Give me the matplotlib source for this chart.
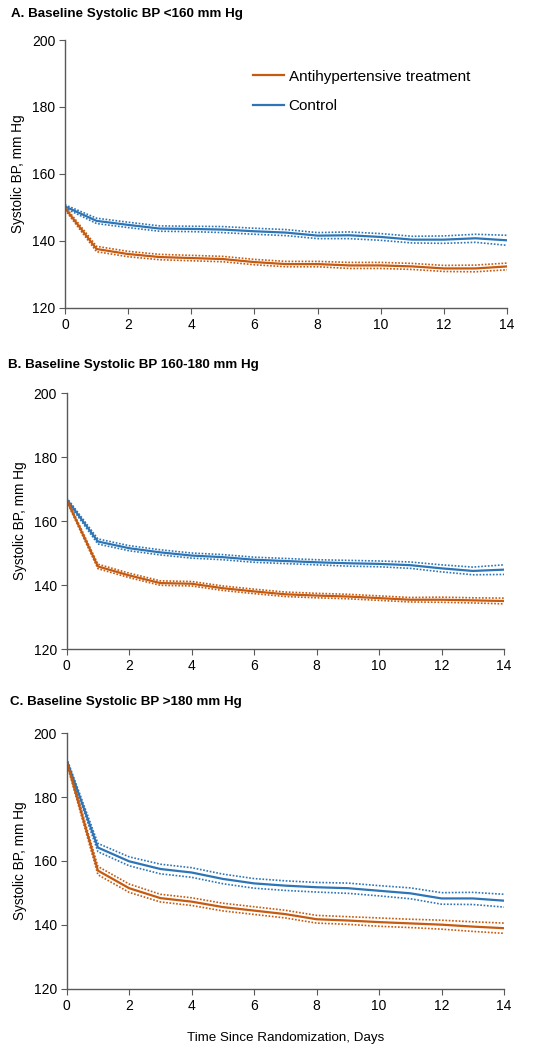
import matplotlib
matplotlib.use("Agg")
import matplotlib.pyplot as plt
import numpy as np

plt.rcParams['font.family'] = ['Liberation Sans', 'DejaVu Sans']

days = list(range(15))

# A. baseline < 160
a_trt = [149.8, 137.6, 136.1, 135.2, 134.9, 134.6, 133.7, 133.1, 133.1, 132.7, 132.7, 132.4, 131.8, 131.8, 132.4]
a_trt_ci = [0.5, 0.8, 0.8, 0.8, 0.8, 0.8, 0.8, 0.8, 0.8, 0.9, 0.9, 0.9, 0.9, 1.0, 1.0]
a_ctl = [150.3, 146.0, 144.8, 143.7, 143.6, 143.4, 142.9, 142.5, 141.6, 141.7, 141.2, 140.4, 140.4, 140.8, 140.2]
a_ctl_ci = [0.5, 0.8, 0.8, 0.8, 0.8, 0.9, 0.9, 0.9, 0.9, 1.0, 1.0, 1.0, 1.1, 1.2, 1.5]

# B. baseline 160-180
b_trt = [166.6, 145.8, 143.0, 140.6, 140.4, 139.0, 138.0, 137.1, 136.7, 136.4, 135.9, 135.4, 135.4, 135.2, 135.0]
b_trt_ci = [0.5, 0.7, 0.7, 0.7, 0.7, 0.7, 0.7, 0.7, 0.7, 0.7, 0.7, 0.7, 0.8, 0.8, 0.9]
b_ctl = [166.8, 153.6, 151.5, 150.2, 149.2, 148.7, 147.9, 147.5, 147.1, 146.8, 146.6, 146.2, 145.2, 144.4, 144.8]
b_ctl_ci = [0.5, 0.8, 0.8, 0.8, 0.8, 0.8, 0.8, 0.8, 0.8, 0.9, 0.9, 1.0, 1.1, 1.2, 1.5]

# C. baseline > 180
c_trt = [191.1, 157.0, 151.5, 148.4, 147.3, 145.6, 144.5, 143.4, 141.8, 141.4, 140.9, 140.5, 140.1, 139.5, 139.0]
c_trt_ci = [0.6, 1.3, 1.3, 1.2, 1.2, 1.2, 1.2, 1.2, 1.2, 1.2, 1.3, 1.3, 1.4, 1.5, 1.6]
c_ctl = [191.5, 164.2, 159.9, 157.5, 156.4, 154.4, 153.0, 152.3, 151.8, 151.5, 150.7, 149.9, 148.3, 148.3, 147.6]
c_ctl_ci = [0.6, 1.3, 1.4, 1.5, 1.5, 1.5, 1.5, 1.5, 1.5, 1.6, 1.6, 1.7, 1.8, 1.9, 2.0]

titles = ["A. Baseline Systolic BP <160 mm Hg",
          "B. Baseline Systolic BP 160-180 mm Hg",
          "C. Baseline Systolic BP >180 mm Hg"]

orange = '#C55A11'
blue = '#2E75B6'

fig = plt.figure(figsize=(5.36, 10.5), dpi=100)

boxes = [[0.1213, 0.7067, 0.8247, 0.2552],
         [0.1244, 0.3819, 0.8160, 0.2438],
         [0.1244, 0.0581, 0.8160, 0.2438]]
title_pos = [(11, 14), (8, 365), (10, 702)]

panels = [(a_trt, a_trt_ci, a_ctl, a_ctl_ci),
          (b_trt, b_trt_ci, b_ctl, b_ctl_ci),
          (c_trt, c_trt_ci, c_ctl, c_ctl_ci)]

for i, (trt, trt_ci, ctl, ctl_ci) in enumerate(panels):
    ax = fig.add_axes(boxes[i])
    trt = np.array(trt)
    ctl = np.array(ctl)
    for m, ci, col, lab in [(ctl, np.array(ctl_ci), blue, 'Control'),
                            (trt, np.array(trt_ci), orange, 'Antihypertensive treatment')]:
        ax.plot(days, m, color=col, lw=1.6, label=lab)
        ax.plot(days, m + ci, color=col, lw=1.2, ls=(0, (1, 1)))
        ax.plot(days, m - ci, color=col, lw=1.2, ls=(0, (1, 1)))
    ax.set_xlim(0, 14)
    ax.set_ylim(120, 200)
    ax.set_xticks(range(0, 15, 2))
    ax.set_yticks(range(120, 201, 20))
    for s in ['top', 'right']:
        ax.spines[s].set_visible(False)
    for s in ['left', 'bottom']:
        ax.spines[s].set_color('#595959')
        ax.spines[s].set_linewidth(1.0)
    ax.tick_params(labelsize=10, length=4, color='#595959', pad=3)
    ax.set_ylabel('Systolic BP, mm Hg', fontsize=9.8, labelpad=5)
    x, y = title_pos[i]
    fig.text(x / 536, 1 - y / 1050, titles[i], fontsize=9.6, fontweight='bold', va='center', ha='left')
    if i == 0:
        h, l = ax.get_legend_handles_labels()
        ax.legend(h[::-1], l[::-1], loc='upper left', bbox_to_anchor=(0.395, 0.94),
                  frameon=False, fontsize=11, handlelength=2.0, handletextpad=0.3,
                  labelspacing=1.0)
    if i == 2:
        ax.set_xlabel('Time Since Randomization, Days', fontsize=9.6, labelpad=14)

fig.savefig('out.png', dpi=100)
